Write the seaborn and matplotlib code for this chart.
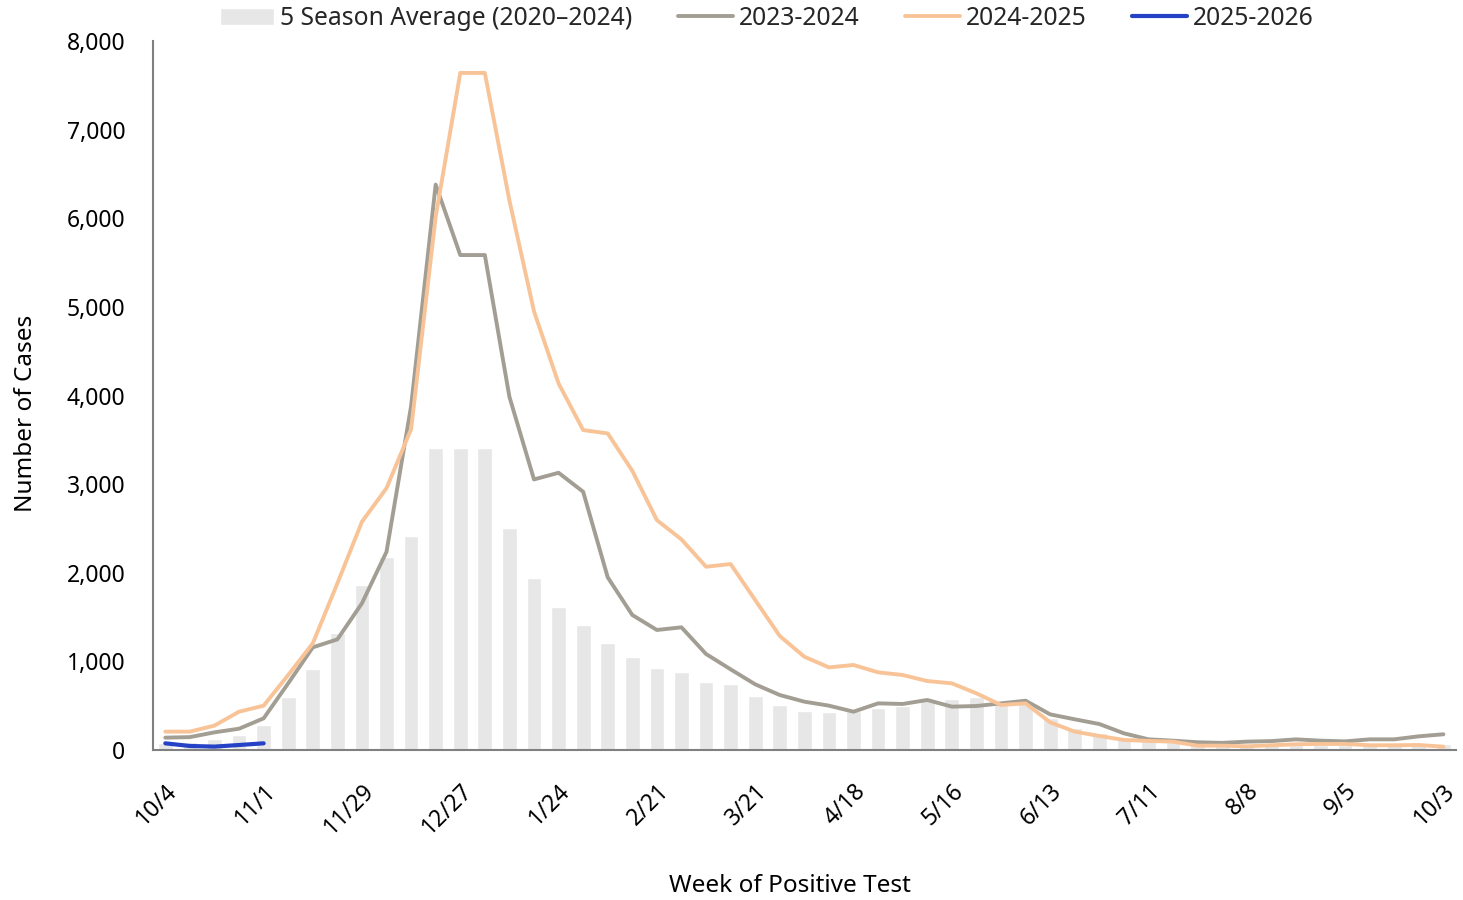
import matplotlib
matplotlib.use("Agg")
import matplotlib.pyplot as plt
import seaborn as sns
import numpy as np
import pandas as pd
from matplotlib.ticker import FuncFormatter

tick_labels = ["10/4", "11/1", "11/29", "12/27", "1/24", "2/21", "3/21",
               "4/18", "5/16", "6/13", "7/11", "8/8", "9/5", "10/3"]

avg_5season = [80, 95, 124, 169, 286, 598, 917, 1320, 1861, 2177, 2414, 3410, 3410, 3410,
               2504, 1940, 1613, 1410, 1207, 1052, 928, 880, 767, 745, 613, 508, 444, 433,
               440, 473, 496, 560, 575, 601, 520, 530, 360, 248, 195, 124, 110, 90, 68,
               65, 60, 62, 60, 58, 60, 62, 60, 62, 65]

s2023_2024 = [139, 145, 199, 240, 357, 752, 1158, 1248, 1655, 2237, 3880, 6380, 5585, 5585,
              3985, 3053, 3128, 2914, 1948, 1523, 1354, 1384, 1083, 910, 741, 620, 545, 500,
              432, 526, 519, 564, 489, 496, 526, 556, 402, 346, 293, 188, 120, 105, 87,
              80, 94, 100, 120, 105, 97, 120, 120, 154, 177]

s2024_2025 = [207, 207, 275, 432, 500, 846, 1203, 1880, 2575, 2955, 3620, 6016, 7640, 7640,
              6200, 4950, 4136, 3610, 3572, 3150, 2594, 2376, 2068, 2098, 1692, 1286, 1052, 932,
              959, 876, 846, 778, 752, 639, 508, 526, 312, 207, 158, 113, 102, 94, 49,
              49, 41, 53, 64, 68, 68, 53, 53, 56, 37]

s2025_2026 = [75, 45, 38, 56, 75]

weeks = np.arange(len(avg_5season))

sns.set_theme(style="white")
plt.rcParams['font.family'] = ['Noto Sans', 'DejaVu Sans']

fig = plt.figure(figsize=(14.63, 9.0), dpi=100)
ax = fig.add_axes([0.1046, 0.1667, 0.8904, 0.7877])

bar_label = "5 Season Average (2020\u20132024)"
df_bar = pd.DataFrame({"week": weeks, "cases": avg_5season})
sns.barplot(data=df_bar, x="week", y="cases", native_scale=True, color="#E7E7E7",
            saturation=1, width=0.6, ax=ax, label=bar_label, zorder=1)

df_a = pd.DataFrame({"week": weeks, "cases": s2023_2024})
df_b = pd.DataFrame({"week": weeks, "cases": s2024_2025})
df_c = pd.DataFrame({"week": weeks[:len(s2025_2026)], "cases": s2025_2026})

sns.lineplot(data=df_a, x="week", y="cases", color="#A39E93", linewidth=2.8, ax=ax,
             label="2023-2024", zorder=3)
sns.lineplot(data=df_b, x="week", y="cases", color="#F8C497", linewidth=2.8, ax=ax,
             label="2024-2025", zorder=4)
sns.lineplot(data=df_c, x="week", y="cases", color="#2541C6", linewidth=3.0, ax=ax,
             label="2025-2026", zorder=5)

ax.set_xlim(-0.5, 52.5)
ax.set_ylim(0, 8000)
ax.set_yticks(np.arange(0, 8001, 1000))
ax.yaxis.set_major_formatter(FuncFormatter(lambda v, p: f"{int(v):,}"))
ax.set_xticks(weeks[::4])
ax.set_xticklabels(tick_labels, rotation=45, ha="right", rotation_mode="anchor")
ax.tick_params(axis="both", length=0, labelsize=16.5, colors="black")
ax.tick_params(axis="x", pad=21)
ax.tick_params(axis="y", pad=20)

for s in ["top", "right"]:
    ax.spines[s].set_visible(False)
for s in ["left", "bottom"]:
    ax.spines[s].set_color("#808080")
    ax.spines[s].set_linewidth(1.5)

ax.set_xlabel("Week of Positive Test", fontsize=17.5, color="black")
ax.xaxis.set_label_coords(0.489, -0.175)
ax.set_ylabel("Number of Cases", fontsize=17.5, color="black")
ax.yaxis.set_label_coords(-0.088, 0.475)

handles, labels = ax.get_legend_handles_labels()
order = [bar_label, "2023-2024", "2024-2025", "2025-2026"]
hmap = dict(zip(labels, handles))
ax.legend([hmap[l] for l in order], order, loc="center",
          bbox_to_anchor=(0.471, 1.032), ncol=4, frameon=False,
          fontsize=17.8, handlelength=2.2, columnspacing=1.85, handletextpad=0.25,
          borderaxespad=0, borderpad=0)

fig.savefig("out.png", dpi=100)
